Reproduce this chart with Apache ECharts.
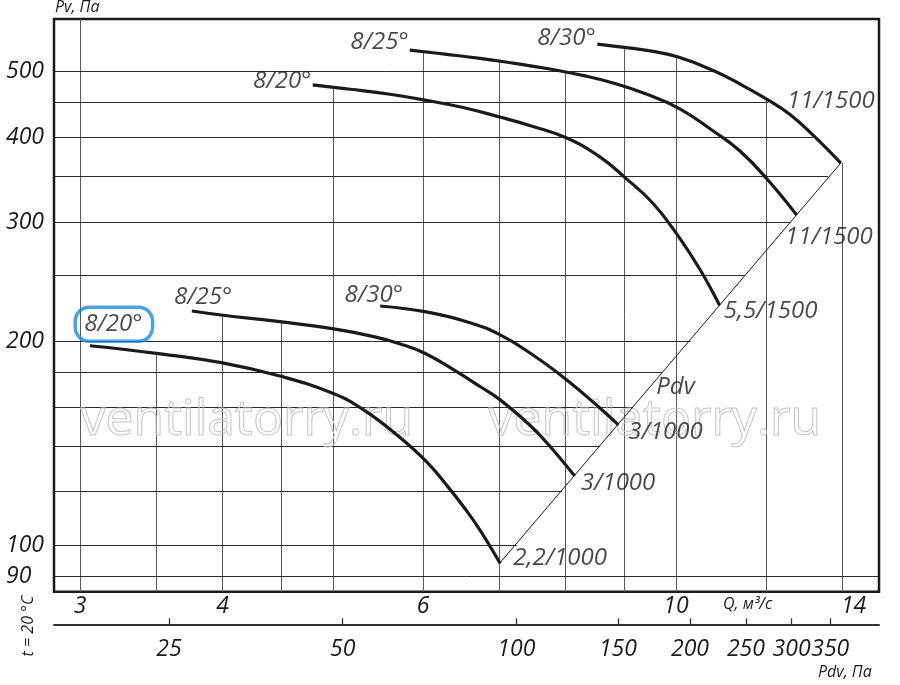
<!DOCTYPE html>
<html lang="ru">
<head>
<meta charset="utf-8" />
<title>Pv / Q</title>
<script src="https://cdn.jsdelivr.net/npm/echarts@6/dist/echarts.min.js"></script>
</head>
<body style="margin:0;background:#fff">
<div id="chart" style="width:900px;height:685px"></div>
<script>
// axis extents
var qMin = 2.846, qMax = 15.07;
var pvMin = 85.4, pvMax = 598;
var pdvMin = 15.8, pdvMax = 425.2;

// tick labels
var qTicks = [3, 4, 6, 10, 14];
var pvTicks = [90, 100, 200, 300, 400, 500];
var pdvTicks = [25, 50, 100, 150, 200, 250, 300, 350];

// grid lines: vertical at Q (up to the outer curve), horizontal at Pv (up to the envelope)
var gridQ = [3, 3.5, 4, 4.5, 5, 6, 7, 8, 9, 10, 12, 14];
var gridQTop = [598, 192, 218.7, 213.6, 474, 535, 518, 499, 543, 525, 454, 366.5];
var gridPv = [90, 100, 120, 140, 160, 180, 200, 250, 300, 350, 400, 450, 500];
var gridPvEnd = [15.07, 7.25, 7.94, 8.58, 9.17, 9.72, 10.3, 11.5, 12.6, 13.6, 13.19, 12.05, 10.85];

// lower group (1000 rpm)
var lowQ20 = [3.06, 3.50, 3.99, 4.51, 5.01, 5.32, 5.69, 6.04, 6.29, 6.51, 6.73, 7.01];
var lowPv20 = [197, 192, 186, 177.4, 167.3, 158.4, 145.5, 132.9, 122.7, 114.0, 105.3, 94];
var lowQ25 = [3.76, 3.99, 4.51, 5.01, 5.43, 5.73, 6.02, 6.42, 6.73, 7.01, 7.44, 7.70, 8.15];
var lowPv25 = [221.7, 218.7, 213.6, 208.6, 203.2, 198.2, 192.0, 180.4, 171.5, 163.9, 150.5, 141.8, 126.5];
var lowQ30 = [5.50, 6.02, 6.55, 7.01, 7.49, 8.02, 8.58, 8.90];
var lowPv30 = [225.5, 221.2, 213.8, 204.4, 190.9, 175.4, 159.3, 150.5];

// upper group (1500 rpm)
var upQ20 = [4.80, 5.18, 5.61, 6.02, 6.49, 6.99, 7.49, 8.02, 8.58, 9.00, 9.54, 10.06, 10.50, 10.92];
var upPv20 = [478, 471, 463, 454, 443, 429, 415, 399, 374, 350, 320, 285, 255, 226];
var upQ25 = [5.84, 6.27, 6.73, 7.22, 7.75, 8.32, 8.84, 9.39, 10.06, 10.78, 11.38, 12.04, 12.76];
var upPv25 = [538, 530.7, 523.2, 514.2, 504.6, 492.8, 480.3, 464.2, 441.5, 408.7, 381.9, 346, 307.2];
var upQ30 = [8.53, 9.01, 9.49, 10.06, 10.78, 11.38, 12.05, 12.59, 13.19, 13.95];
var upPv30 = [549, 543, 536.5, 525, 502, 479.5, 454, 432.3, 403, 366.5];

// dynamic pressure line
var pdvQ = [7.0, 13.95];
var pdvPv = [94, 366.5];

function lg(v) { return Math.log10(v); }
function pts(qs, ps) { return qs.map(function (q, i) { return [lg(q), lg(ps[i])]; }); }
function unlg(v) { return String(Math.round(Math.pow(10, v))); }

var FONT = '"Open Sans", "Noto Sans", sans-serif';
var INK = '#1a1a1a';

var curves = [
  { q: lowQ20, p: lowPv20, name: '8/20°', motor: '2,2/1000', nameOff: [24, -21.5], motorOff: [60, -5], boxed: true },
  { q: lowQ25, p: lowPv25, name: '8/25°', motor: '3/1000', nameOff: [11.3, -14], motorOff: [43.3, 6.6] },
  { q: lowQ30, p: lowPv30, name: '8/30°', motor: '3/1000', nameOff: [-6.3, -11], motorOff: [47.2, 7] },
  { q: upQ20, p: upPv20, name: '8/20°', motor: '5,5/1500', nameOff: [-30.5, -3.3], motorOff: [51, 6] },
  { q: upQ25, p: upPv25, name: '8/25°', motor: '11/1500', nameOff: [-30.3, -8.3], motorOff: [32.3, 21.7] },
  { q: upQ30, p: upPv30, name: '8/30°', motor: '11/1500', nameOff: [-30.8, -5.7], motorOff: [-10, -61.6] }
];

var series = [];

// grid lines
var gridSegs = [];
gridQ.forEach(function (q, i) {
  gridSegs.push({ coords: [[lg(q), lg(pvMin)], [lg(q), lg(gridQTop[i])]], lineStyle: { color: '#5a5a5a' } });
});
gridPv.forEach(function (p, i) {
  gridSegs.push({ coords: [[lg(qMin), lg(p)], [lg(gridPvEnd[i]), lg(p)]] });
});
series.push({
  type: 'lines', coordinateSystem: 'cartesian2d', silent: true, z: 1,
  lineStyle: { color: '#2a2a2a', width: 1, opacity: 1 },
  data: gridSegs
});

// Pdv line
series.push({
  type: 'line', data: pts(pdvQ, pdvPv), showSymbol: false, silent: true, z: 4,
  lineStyle: { color: INK, width: 1 }
});

var labelItems = [];
curves.forEach(function (c) {
  var d = pts(c.q, c.p);
  series.push({
    type: 'line', data: d, showSymbol: false, smooth: 0.45, silent: true, z: 5,
    lineStyle: { color: INK, width: 3.2 }
  });
  var nl = { offset: c.nameOff };
  if (c.boxed) {
    nl = {
      offset: c.nameOff, borderColor: '#1a8cd8', borderWidth: 3.5, borderRadius: 14,
      padding: [3, 10, 2, 9], lineHeight: 29
    };
  }
  labelItems.push({ name: c.name, value: d[0], label: nl });
  labelItems.push({ name: c.motor, value: d[d.length - 1], label: { offset: c.motorOff } });
});
labelItems.push({ name: 'Pdv', value: pts(pdvQ, pdvPv)[0], label: { offset: [176, -176] } });

series.push({
  type: 'scatter', data: labelItems, symbolSize: 0, silent: true, z: 6,
  itemStyle: { color: 'transparent' },
  label: {
    show: true, position: 'inside', formatter: '{b}', color: INK,
    fontFamily: FONT, fontStyle: 'italic', fontSize: 24
  }
});

var axisLabelBase = { color: INK, fontFamily: FONT, fontStyle: 'italic', fontSize: 23, formatter: unlg };

var option = {
  animation: false,
  backgroundColor: '#fff',
  grid: { left: 54, right: 21, top: 19, bottom: 93.3, show: true, borderColor: INK, borderWidth: 2.5 },
  xAxis: [
    {
      type: 'value', min: lg(qMin), max: lg(qMax), position: 'bottom',
      axisLine: { show: false }, axisTick: { show: false }, splitLine: { show: false },
      axisLabel: Object.assign({}, axisLabelBase, {
        margin: 3,
        customValues: qTicks.map(lg),
        formatter: function (v) { var s = unlg(v); return s === '14' ? '{r|14}' : s; },
        rich: { r: { fontFamily: FONT, fontStyle: 'italic', fontSize: 23, color: INK, padding: [0, 0, 0, 22] } }
      })
    },
    {
      type: 'value', min: lg(pdvMin), max: lg(pdvMax), position: 'bottom', offset: 32.6,
      axisLine: { show: true, lineStyle: { color: '#333', width: 2 } },
      axisTick: { show: true, inside: true, length: 6, customValues: pdvTicks.map(lg), lineStyle: { color: '#333', width: 1.3 } },
      splitLine: { show: false },
      axisLabel: Object.assign({}, axisLabelBase, { margin: 14, customValues: pdvTicks.map(lg) })
    }
  ],
  yAxis: {
    type: 'value', min: lg(pvMin), max: lg(pvMax),
    axisLine: { show: false }, axisTick: { show: false }, splitLine: { show: false },
    axisLabel: Object.assign({}, axisLabelBase, { align: 'left', margin: 48, customValues: pvTicks.map(lg) })
  },
  graphic: [
    { type: 'text', left: 80, top: 395, z: 3, silent: true,
      style: { text: 'ventilatorry.ru', font: '50px ' + FONT, fill: 'transparent', stroke: '#c4c4c4', lineWidth: 1 } },
    { type: 'text', left: 488, top: 395, z: 3, silent: true,
      style: { text: 'ventilatorry.ru', font: '50px ' + FONT, fill: 'transparent', stroke: '#c4c4c4', lineWidth: 1 } },
    { type: 'text', left: 55, top: -1,
      style: { text: 'Pv, Па', font: 'italic 16px ' + FONT, fill: INK } },
    { type: 'text', left: 723, top: 596,
      style: { text: 'Q, м³/с', font: 'italic 16px ' + FONT, fill: INK } },
    { type: 'text', left: 818, top: 664,
      style: { text: 'Pdv, Па', font: 'italic 16px ' + FONT, fill: INK } },
    { type: 'text', x: 28, y: 626, rotation: Math.PI / 2,
      style: { text: 't = 20 °C', font: 'italic 16px ' + FONT, fill: INK, align: 'center', verticalAlign: 'middle' } }
  ],
  series: series
};

var chart = echarts.init(document.getElementById('chart'), null, { renderer: 'canvas' });
chart.setOption(option);
window.addEventListener('resize', chart.resize);
</script>
</body>
</html>
